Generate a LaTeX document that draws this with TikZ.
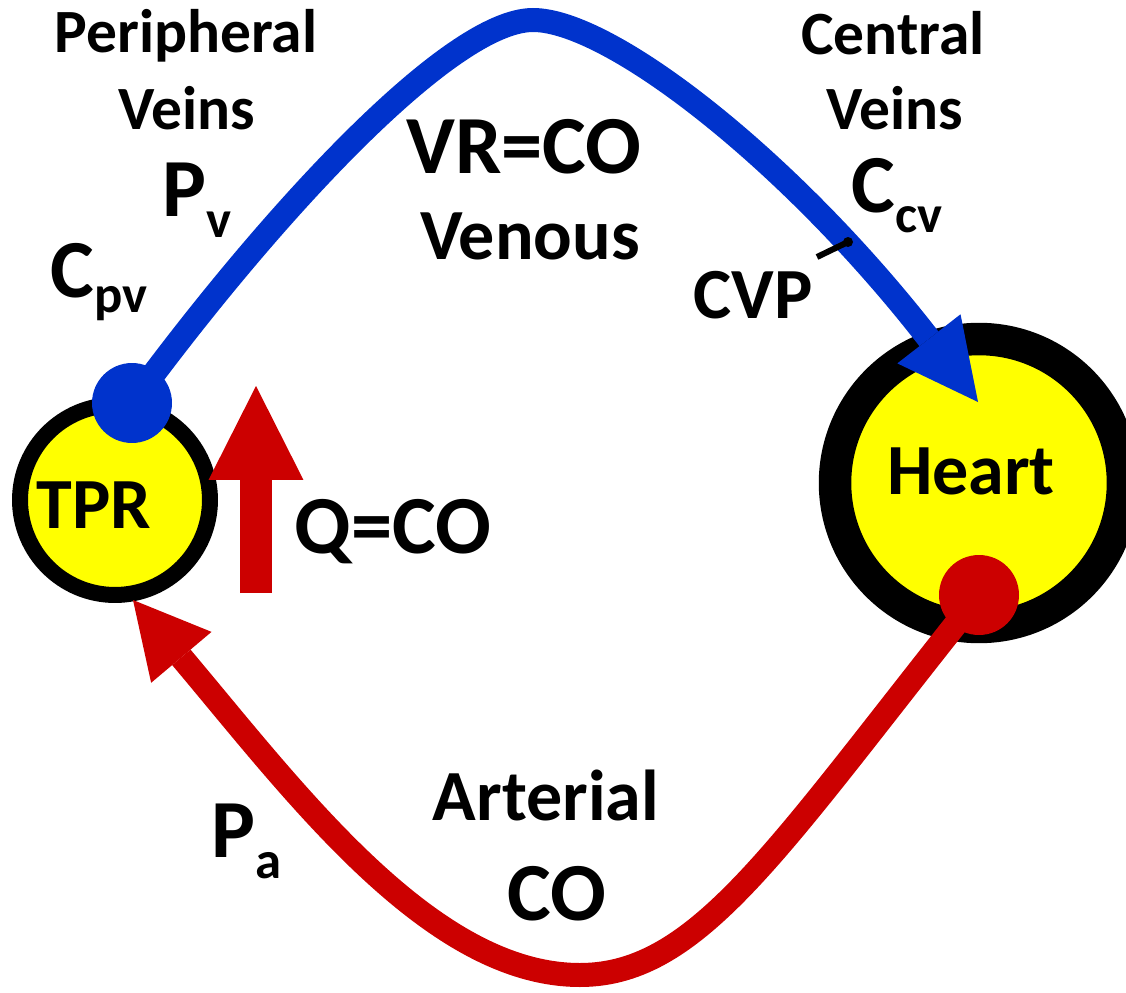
\documentclass[tikz,border=0pt]{standalone}
\usepackage{fontspec}
\setmainfont{Carlito}
\usetikzlibrary{arrows.meta}
\definecolor{vblue}{RGB}{0,51,204}
\definecolor{ared}{RGB}{204,0,0}
\definecolor{cyell}{RGB}{255,255,0}
\tikzset{
  lbl/.style={inner sep=0pt, anchor=base, font=\bfseries\fontsize{#1pt}{#1pt}\selectfont},
  lblw/.style={inner sep=0pt, anchor=base west, font=\bfseries\fontsize{#1pt}{#1pt}\selectfont},
  organ/.style={circle, draw=black, fill=cyell, inner sep=0pt},
  dot/.style={circle, inner sep=0pt, minimum size=1.6cm},
  vessel/.style={line width=0.48cm, line cap=butt},
  vein/.style={vessel, draw=vblue, -{Triangle[length=1.6cm,width=1.6cm,line width=0pt]}},
  artery/.style={vessel, draw=ared, -{Triangle[length=1.5cm,width=1.58cm,line width=0pt]}},
  flowarrow/.style={line width=0.64cm, draw=ared, line cap=butt, -{Triangle[length=1.88cm,width=1.9cm,line width=0pt]}},
  pointer/.style={line width=0.12cm, draw=black}
}
\newcommand{\subs}[2]{\raisebox{-#1}{\fontsize{30pt}{30pt}\selectfont #2}}
\begin{document}
\begin{tikzpicture}[x=0.02cm,y=-0.02cm]
\useasboundingbox (0,0) rectangle (1126,993);
% organs
\node[organ, minimum size=3.8cm, line width=0.32cm] (tpr) at (115,500) {};
\node[organ, minimum size=5.76cm, line width=0.65cm] (heart) at (979,483) {};
% dots (positions)
\coordinate (bdotc) at (132,403);
\coordinate (rdotc) at (979,595);
\coordinate (vtip) at (978,402);
\coordinate (atip) at (133,600);
% venous return
\draw[vein] (bdotc) .. controls (270,215) and (450,20) .. (533,20)
                    .. controls (610,20) and (790,160) .. (vtip);
% arterial
\draw[artery] (rdotc) .. controls (779,845) and (700,975) .. (580,975)
                      .. controls (430,975) and (294,791) .. (atip);
\node[dot, fill=vblue] (bdot) at (bdotc) {};
\node[dot, fill=ared] (rdot) at (rdotc) {};
% Q=CO arrow
\coordinate (qbot) at (256,593);
\coordinate (qtop) at (256,386);
\draw[flowarrow] (qbot) -- (qtop);
% CVP pointer
\coordinate (cvpend) at (817,257);
\node[circle, fill=black, inner sep=0pt, minimum size=0.2cm] (cvpdot) at (848,242) {};
\draw[pointer] (cvpend) -- (cvpdot.center);
% labels
\node[lbl=35] (peri) at (186,53) {Peripheral};
\node[lbl=35] (pveins) at (187,130) {Veins};
\node[lbl=35] (cent) at (893,55) {Central};
\node[lbl=35] (cveins) at (895,130) {Veins};
\node[lbl=47] (vrco) at (524,174) {VR=CO};
\node[lbl=41] (venous) at (530,260) {Venous};
\node[lblw=47] (pv) at (162,217) {P\subs{0.42cm}{v}};
\node[lblw=47] (cpv) at (50,297) {C\subs{0.32cm}{pv}};
\node[lblw=47] (ccv) at (851,213) {C\subs{0.4cm}{cv}};
\node[lbl=41] (cvp) at (753,318) {CVP};
\node[lbl=41] (tprt) at (94,528) {TPR};
\node[lbl=41] (heartt) at (971,494) {Heart};
\node[lbl=47] (qco) at (393,553) {Q=CO};
\node[lblw=47] (pa) at (211,857) {P\subs{0.42cm}{a}};
\node[lbl=41] (art) at (546,820) {Arterial};
\node[lbl=47] (co) at (557,920) {CO};
\end{tikzpicture}
\end{document}
